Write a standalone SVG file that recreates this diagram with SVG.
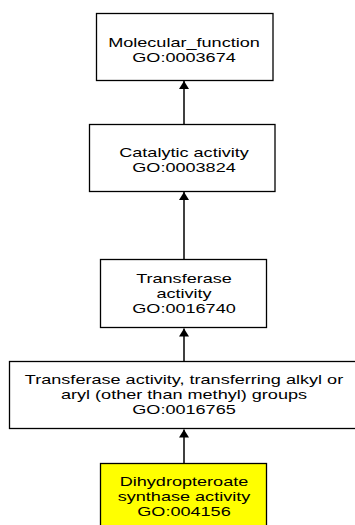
<svg xmlns="http://www.w3.org/2000/svg" width="355" height="525" viewBox="0 0 355 525">
  <style>
    .box { fill: #ffffff; stroke: #000000; stroke-width: 1.3; }
    .hl { fill: #ffff00; }
    .lbl { font-family: "Liberation Sans", Arial, sans-serif; font-size: 13.3px; fill: #000000; text-anchor: middle; }
    .edge { stroke: #000000; stroke-width: 1.5; fill: none; marker-end: url(#arrow); }
  </style>
  <defs>
    <marker id="arrow" markerUnits="userSpaceOnUse" markerWidth="9" markerHeight="11" refX="8" refY="5" orient="auto">
      <path d="M0,0 L8,5 L0,10 z" fill="#000000"/>
    </marker>
  </defs>
  <rect width="355" height="525" fill="#ffffff"/>
  <g id="connectors">
    <line class="edge" x1="184" y1="124" x2="184" y2="81"/>
    <line class="edge" x1="184" y1="259" x2="184" y2="192"/>
    <line class="edge" x1="184" y1="361" x2="184" y2="328.5"/>
    <line class="edge" x1="184" y1="463" x2="184" y2="429.5"/>
  </g>
  <g id="n_GO0003674">
    <rect class="box" x="96.5" y="13.5" width="176.5" height="67"/>
    <text class="lbl" transform="translate(184,0) scale(1.36,1)"><tspan x="0" y="46.75">Molecular_function</tspan><tspan x="0" y="61.75">GO:0003674</tspan></text>
  </g>
  <g id="n_GO0003824">
    <rect class="box" x="89.5" y="124.5" width="185.5" height="67"/>
    <text class="lbl" transform="translate(184,0) scale(1.36,1)"><tspan x="0" y="157.15">Catalytic activity</tspan><tspan x="0" y="172.15">GO:0003824</tspan></text>
  </g>
  <g id="n_GO0016740">
    <rect class="box" x="100.5" y="259.5" width="166" height="68"/>
    <text class="lbl" transform="translate(184,0) scale(1.36,1)"><tspan x="0" y="283.5">Transferase</tspan><tspan x="0" y="298.5">activity</tspan><tspan x="0" y="313.5">GO:0016740</tspan></text>
  </g>
  <g id="n_GO0016765">
    <rect class="box" x="9.5" y="361.5" width="352" height="67"/>
    <text class="lbl" transform="translate(184,0) scale(1.36,1)"><tspan x="0" y="384.5">Transferase activity, transferring alkyl or</tspan><tspan x="0" y="399.5">aryl (other than methyl) groups</tspan><tspan x="0" y="414.5">GO:0016765</tspan></text>
  </g>
  <g id="n_GO004156">
    <rect class="box hl" x="100.5" y="463.5" width="166" height="80"/>
    <text class="lbl" transform="translate(184,0) scale(1.36,1)"><tspan x="0" y="486.5">Dihydropteroate</tspan><tspan x="0" y="501.5">synthase activity</tspan><tspan x="0" y="516.5">GO:004156</tspan></text>
  </g>
</svg>
